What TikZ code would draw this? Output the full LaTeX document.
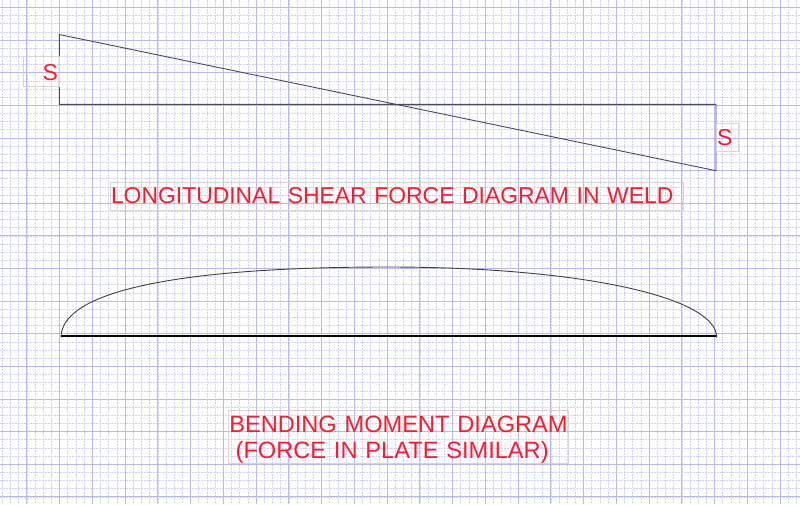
\documentclass[tikz,border=0pt]{standalone}
\usepackage{fontspec}
\setmainfont{Liberation Sans}
\usepackage{tikz}
\usepackage{xcolor}
\usetikzlibrary{positioning}
\definecolor{labelred}{RGB}{255,25,45}
\definecolor{gridmajor}{RGB}{185,185,242}
\definecolor{gridminor}{RGB}{208,208,250}
\definecolor{outline}{RGB}{72,72,104}
\definecolor{boxgray}{RGB}{214,214,214}

\begin{document}
\begin{tikzpicture}[x=1pt,y=-1pt,font=\fontsize{23}{26.5}\selectfont,every node/.style={draw=boxgray,line width=0.5pt,text=labelred,inner xsep=1pt,inner ysep=2pt,anchor=base},minorgrid/.style={gridminor,line width=0.5pt,dash pattern=on 2pt off 1pt},majorgrid/.style={gridmajor,line width=0.7pt},diagram/.style={outline,line width=0.9pt,line join=miter},curve/.style={black!75,line width=0.9pt}]
	\useasboundingbox (0,0) rectangle (800,504);
	\fill[white] (0,0) rectangle (800,504);

	% grid paper
	\foreach \k in {0,...,99} \draw[minorgrid] ({-6+8.1875*\k},0) -- ++(0,504);
	\foreach \k in {0,...,62} \draw[minorgrid] (0,{-0.79+8.1575*\k}) -- ++(800,0);
	\foreach \k in {0,...,25} \draw[majorgrid] ({-6+32.75*\k},0) -- ++(0,504);
	\foreach \k in {0,...,15} \draw[majorgrid] (0,{7.37+32.63*\k}) -- ++(800,0);

	% shear force diagram
	\coordinate (sTop) at (59.3,34.5);
	\coordinate (sBase) at (59.3,104.3);
	\coordinate (sEnd) at (716,104.3);
	\coordinate (sLow) at (716,170.7);
	\draw[diagram] (sTop) -- (sBase) -- (sEnd) -- (sLow) -- cycle;

	% bending moment diagram
	\coordinate (mLeft) at (61,335.7);
	\coordinate (mRight) at (716,335.7);
	\coordinate (mStart) at (61,337.5);
	\coordinate (mPeak) at (388,267);
	\coordinate (mStop) at (716.7,337.5);
	\draw[black,line width=2pt] (mLeft) -- (mRight);
	\draw[curve] (mStart) .. controls (61,291.7) and (175.5,267) .. (mPeak) .. controls (578.6,267) and (716.7,296.6) .. (mStop);

	% labels
	\node (leftS) [text width=34pt,align=right,text height=22pt,text depth=4pt] at (41,80) {S};
	\node (rightS) [text width=20pt,align=left,text height=20pt,text depth=4pt] at (727,145) {S};
	\node (shearlabel) [font=\fontsize{22.9}{26.5}\selectfont,text width=571pt,align=left,text height=19.3pt,text depth=4.7pt] at (396.5,203.3) {\mbox{LONGITUDINAL SHEAR FORCE DIAGRAM IN WELD}};
	\node (momentlabel) [font=\fontsize{23.6}{26.5}\selectfont,text width=337.7pt,align=left,text height=20.3pt,text depth=28.7pt] at (398.15,432.3) {\mbox{BENDING MOMENT DIAGRAM}\\\mbox{\hspace*{0.27em}(FORCE IN PLATE SIMILAR)}};
\end{tikzpicture}
\end{document}
